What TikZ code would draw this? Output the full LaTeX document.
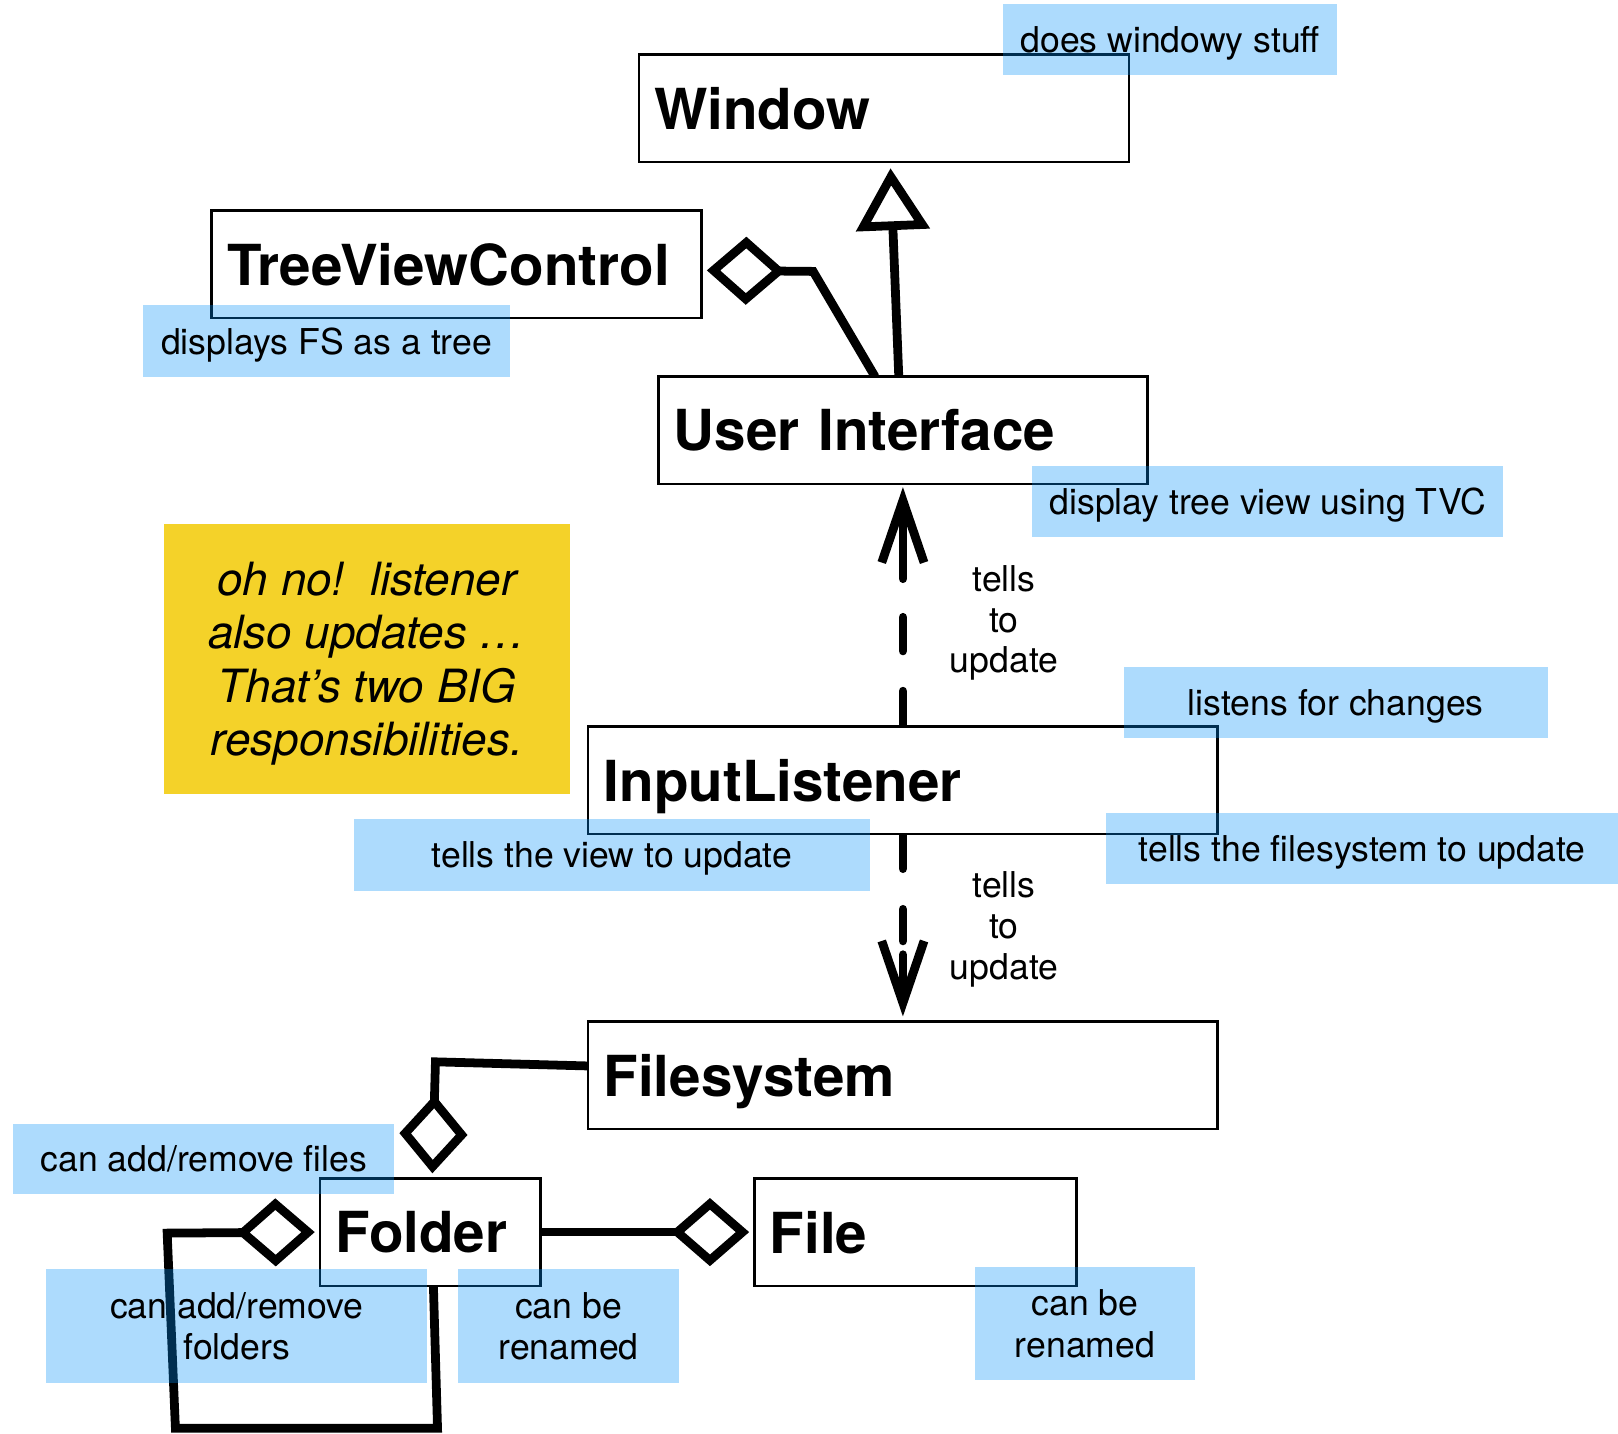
\documentclass[tikz,border=0pt]{standalone}
\usepackage{fontspec}
\setmainfont{TeX Gyre Heros}
\usetikzlibrary{arrows.meta,calc,backgrounds}
\definecolor{notefill}{RGB}{244,210,41}
\definecolor{tagblue}{RGB}{0,146,249}
\begin{document}
\begin{tikzpicture}[x=0.5pt,y=-0.5pt,
  classbox/.style={draw, line width=1.2pt, fill=white, anchor=north west,
    outer sep=0pt, minimum height=52pt, inner xsep=7.5pt, inner ysep=0pt,
    text width=#1, align=left, text depth=0pt,
    font=\fontsize{27.4pt}{32pt}\selectfont\bfseries},
  tag/.style 2 args={minimum width=#1, minimum height=#2, fill=tagblue,
    fill opacity=0.32, text opacity=1, inner sep=0pt, align=center,
    text depth=0pt, font=\fontsize{17.25pt}{20pt}\selectfont},
  stickynote/.style={fill=notefill, minimum width=196.5pt, minimum height=130.5pt,
    inner sep=0pt, align=center, text depth=0pt,
    font=\fontsize{22.2pt}{25.85pt}\selectfont\itshape\frenchspacing},
  msg/.style={inner sep=0pt, align=center, text depth=0pt,
    font=\fontsize{17.25pt}{19.75pt}\selectfont},
  conn/.style={line width=4.25pt, line join=miter},
  agg/.style={conn, -{Diamond[open, length=38pt, width=33pt]}},
  gen/.style={conn, -{Triangle[open, length=30pt, width=35pt]}},
  dep/.style={conn, line cap=round, -{Straight Barb[length=30pt, width=20.5pt]}}
]
\useasboundingbox (0,0) rectangle (1568,1389);

% classes
\node[classbox=222.5pt] (win) at (619,53) {Window};
\node[classbox=222.5pt] (tvc) at (205,204) {TreeViewControl};
\node[classbox=222pt] (ui) at (638,365) {User Interface};
\node[classbox=290pt] (il) at (570,704) {InputListener};
\node[classbox=290pt] (fs) at (570,990) {Filesystem};
\node[classbox=92pt] (folder) at (310,1142) {Folder};
\node[classbox=141pt] (file) at (731,1142) {File};

% relations, drawn beneath the boxes
\begin{pgfonlayer}{background}
\fill[white] (0,0) rectangle (1568,1389);
\draw[gen] ($(ui.north west)+(233,0)$) -- ($(win.south west)+(244,6)$);
\draw[agg] ($(ui.north west)+(210,0)$) -- ($(tvc.north east)+(108,59)$)
  -- ($(tvc.north east)+(5,58)$);
\draw[dep, dash pattern=on 17.1pt off 19.5pt on 16.3pt off 18.7pt on 200pt]
  ($(il.north west)+(305,0)$) -- ($(ui.south west)+(237,3)$);
\draw[dep, dash pattern=on 16.9pt off 19.7pt on 15.3pt off 6.7pt on 200pt]
  ($(il.south west)+(305,0)$) -- ($(fs.north west)+(305,-5)$);
\draw[agg] ($(fs.north west)+(0,43)$) -- ($(fs.north west)+(-148,39)$)
  -- ($(folder.north west)+(109,-5)$);
\draw[agg] (folder.east) -- ($(file.west)+(-5,0)$);
\draw[agg] ($(folder.south west)+(110,0)$) -- ($(folder.south west)+(114,138)$)
  -- ($(folder.south west)+(-140,138)$) -- ($(folder.west)+(-148,1)$)
  -- ($(folder.west)+(-5,0)$);
\end{pgfonlayer}

% message labels
\node[msg] (upmsg) at (973,600) {tells\\to\\update};
\node[msg] (downmsg) at (973,897) {tells\\to\\update};

% sticky note
\node[stickynote] (warn) at (355.5,638.5)
  {oh no!\ \ listener\\also updates …\\That’s two BIG\\responsibilities.};

% responsibility tags
\node[tag={162pt}{34.5pt}] (t1) at (1134,38.5) {does windowy stuff};
\node[tag={177.5pt}{34.5pt}] (t2) at (316.5,330.5) {displays FS as a tree};
\node[tag={228.5pt}{34pt}] (t3) at (1228.5,486) {display tree view using TVC};
\node[tag={205.5pt}{34.5pt}] (t4) at (1294.5,680.5) {listens for changes};
\node[tag={250pt}{34.5pt}] (t5) at (593,828.5) {tells the view to update};
\node[tag={248pt}{34.5pt}] (t6) at (1320,822.5) {tells the filesystem to update};
\node[tag={184.5pt}{34pt}] (t7) at (197.5,1123) {can add/remove files};
\node[tag={184.5pt}{55pt}] (t8) at (229.5,1285) {can add/remove\\folders};
\node[tag={107pt}{55pt}] (t9) at (551,1285) {can be\\renamed};
\node[tag={106.5pt}{54.5pt}] (t10) at (1051.5,1282.5) {can be\\renamed};
\end{tikzpicture}
\end{document}
